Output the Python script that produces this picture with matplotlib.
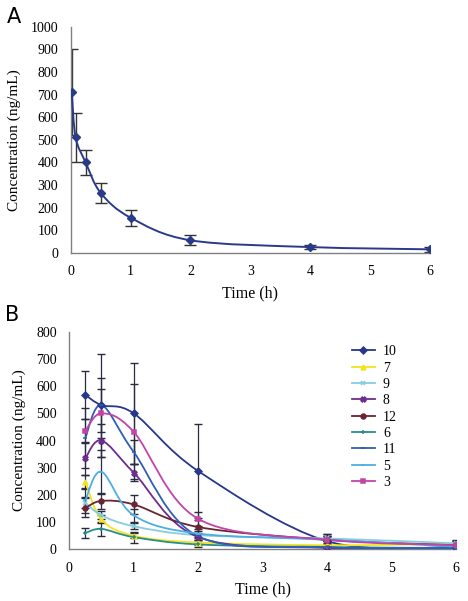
import numpy as np
import matplotlib.pyplot as plt
from matplotlib.path import Path
from matplotlib.patches import PathPatch
from matplotlib.lines import Line2D

# ---- panel A data ----
t_a = [0.017, 0.083, 0.25, 0.5, 1, 2, 4, 6]
c_a = [710, 510, 400, 265, 155, 55, 25, 15]
e_a = [190, 110, 55, 45, 35, 22, 10, 10]

# ---- panel B data ----
t_b = [0.25, 0.5, 1, 2, 4, 6]
labels_b = ['10', '7', '9', '8', '12', '6', '11', '5', '3']
y10 = [568, 530, 500, 288, 30, 8]
y7 = [248, 110, 50, 25, 15, 20]
y9 = [172, 125, 85, 52, 40, 22]
y8 = [335, 400, 282, 45, 5, 5]
y12 = [152, 178, 165, 82, 35, 15]
y6 = [60, 75, 45, 18, 8, 5]
y11 = [410, 530, 358, 48, 8, 5]
y5 = [180, 285, 125, 58, 35, 10]
y3 = [435, 500, 432, 112, 35, 15]
e10 = [87, 190, 185, 172, 25, 8]
e7 = [25, 15, 10, 8, 5, 15]
e9 = [20, 15, 12, 8, 10, 10]
e8 = [60, 60, 30, 10, 5, 5]
e12 = [35, 30, 35, 25, 15, 10]
e6 = [18, 25, 20, 8, 5, 5]
e11 = [110, 100, 45, 20, 5, 5]
e5 = [45, 80, 25, 15, 10, 5]
e3 = [45, 90, 175, 25, 20, 15]

series_b = [y10, y7, y9, y8, y12, y6, y11, y5, y3]
errs_b = [e10, e7, e9, e8, e12, e6, e11, e5, e3]
colors_b = ['#27378a', '#f2e41c', '#86cde0', '#6b2d8e', '#6a2433',
            '#2a8c8c', '#2e5fb4', '#4daee6', '#c244a6']
markers_b = ['D', '^', 'x', 'X', 'o', '+', '_', '_', 's']

plt.rcParams['font.family'] = ['Liberation Serif', 'DejaVu Serif']


def smooth_path(x, y):
    """Excel-like smoothed line through the points (cubic Bezier)"""
    p = np.column_stack([x, y]).astype(float)
    verts = [p[0]]
    codes = [Path.MOVETO]
    n = len(p)
    for i in range(n - 1):
        p0 = p[i - 1] if i > 0 else p[i]
        p3 = p[i + 2] if i + 2 < n else p[i + 1]
        c1 = p[i] + (p[i + 1] - p0) / 6
        c2 = p[i + 1] - (p3 - p[i]) / 6
        verts += [c1, c2, p[i + 1]]
        codes += [Path.CURVE4] * 3
    return Path(verts, codes)


def style_axes(ax):
    for s in ['top', 'right']:
        ax.spines[s].set_visible(False)
    for s in ['left', 'bottom']:
        ax.spines[s].set_color('#808080')
        ax.spines[s].set_linewidth(1.0)
    ax.tick_params(length=0, labelsize=10)
    ax.tick_params(axis='y', pad=9)
    ax.tick_params(axis='x', pad=9)
    ax.set_xlabel('Time (h)', fontsize=11.5, labelpad=5)
    ax.set_ylabel('Concentration (ng/mL)', fontsize=11, labelpad=7)


fig = plt.figure(figsize=(4.68, 6.01), dpi=100)

# panel A
ax1 = fig.add_axes([0.151, 0.5795, 0.768, 0.376])
ax1.errorbar(t_a, c_a, yerr=e_a, fmt='none', ecolor='#333333',
             elinewidth=1.0, capsize=4, capthick=1.0, zorder=2)
ax1.add_patch(PathPatch(smooth_path(t_a, c_a), fill=False,
                        edgecolor='#2a3a8a', lw=1.4, zorder=3))
ax1.plot(t_a, c_a, ls='none', marker='D', ms=4, color='#2a3a8a', zorder=4)
ax1.set_xlim(0, 6)
ax1.set_ylim(0, 1000)
ax1.set_yticks(range(0, 1001, 100))
style_axes(ax1)
fig.text(0.015, 0.972, 'A', fontsize=15, family='DejaVu Sans', va='center')

# panel B
ax2 = fig.add_axes([0.148, 0.086, 0.826, 0.362])
handles = []
for yy, ee, col, mk, lab in zip(series_b, errs_b, colors_b, markers_b, labels_b):
    ax2.errorbar(t_b, yy, yerr=ee, fmt='none', ecolor='#2a2a40',
                 elinewidth=0.9, capsize=3, capthick=1.0, zorder=2)
    ax2.add_patch(PathPatch(smooth_path(t_b, yy), fill=False,
                            edgecolor=col, lw=1.3, zorder=3))
    ax2.plot(t_b, yy, ls='none', marker=mk, ms=3.5, mew=1.1,
             color=col, zorder=4)
    handles.append(Line2D([], [], color=col, marker=mk, ms=3.5, mew=1.1,
                          lw=1.3, label=lab))
ax2.set_xlim(0, 6)
ax2.set_ylim(0, 800)
ax2.set_yticks(range(0, 801, 100))
style_axes(ax2)
ax2.legend(handles=handles, loc='upper left', bbox_to_anchor=(0.70, 0.995),
           frameon=False, fontsize=10, handlelength=1.6, labelspacing=0.24,
           handletextpad=0.6)
fig.text(0.01, 0.476, 'B', fontsize=15, family='DejaVu Sans', va='center')

fig.savefig('out.png', dpi=100)
